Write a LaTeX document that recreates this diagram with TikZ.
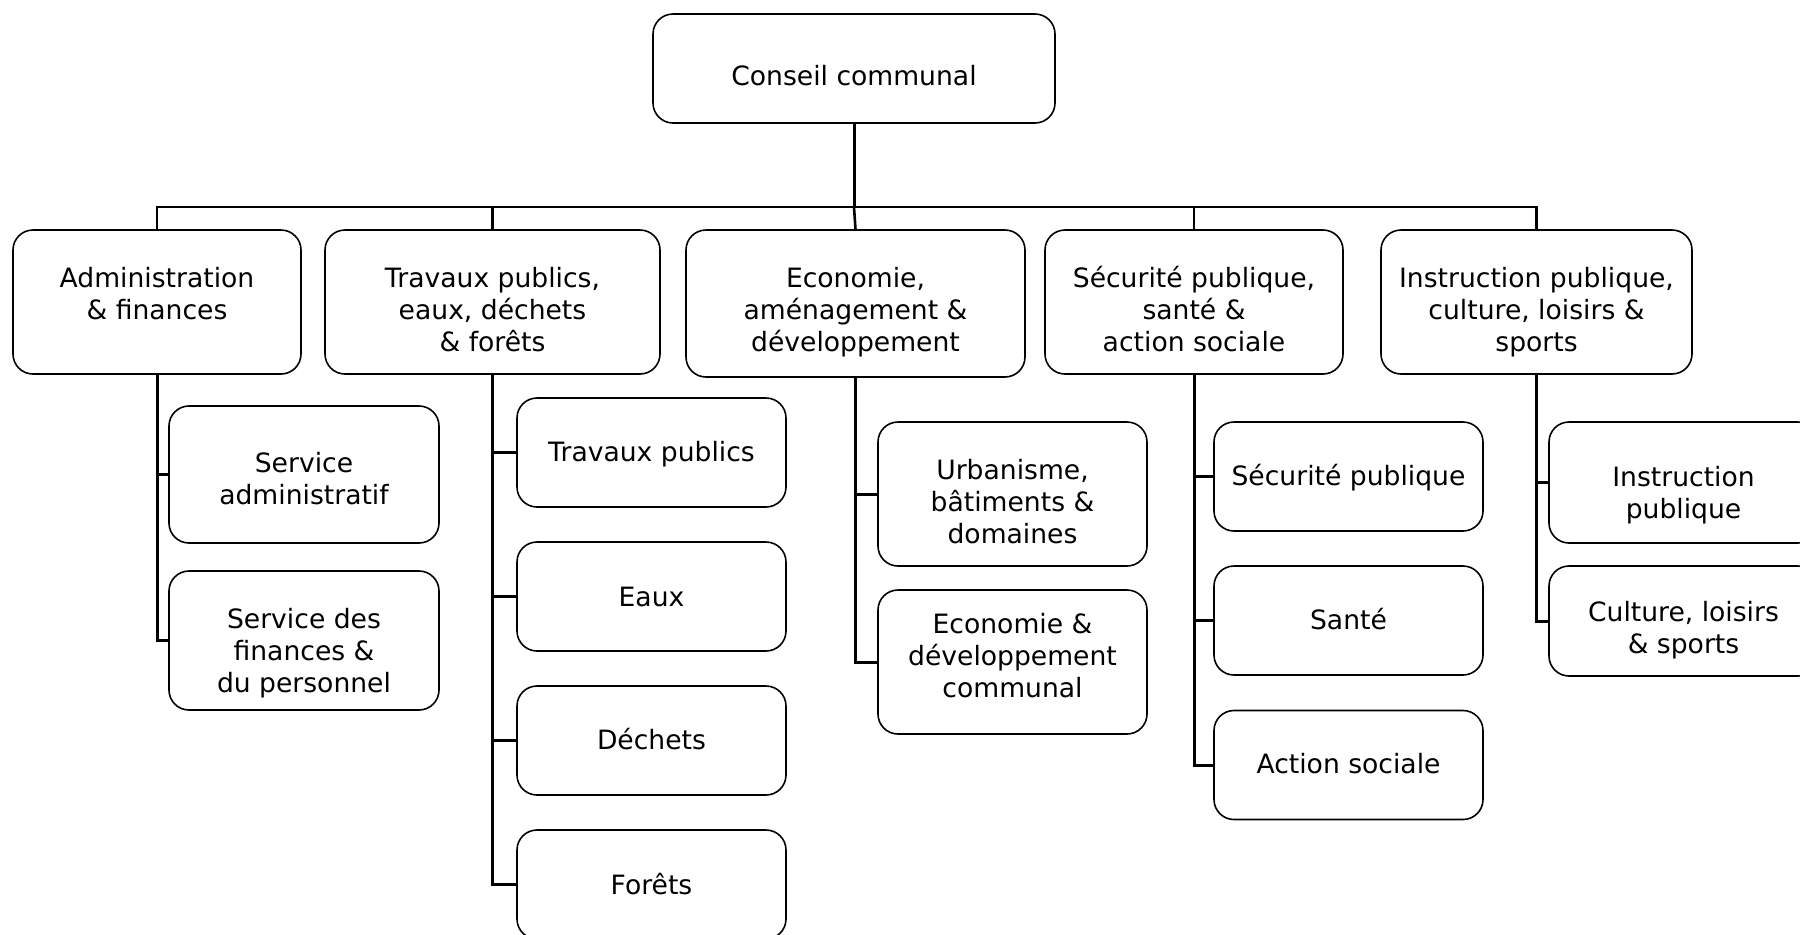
\documentclass[tikz,border=0pt]{standalone}
\usepackage{fontspec}
\setmainfont{DejaVu Sans}
% box caption: centred lines, lowered by #1 pt from the box middle
\newcommand\lbl[2]{\raisebox{\dimexpr-5.3pt-(#1pt)\relax}[0pt][0pt]{\begin{tabular}{@{}c@{}}#2\end{tabular}}}
\begin{document}
\begin{tikzpicture}[x=0.5pt,y=-0.5pt,
  unit/.style={draw=black, line width=0.8pt, rounded corners=10pt, fill=white,
    inner sep=0pt, font=\fontsize{13.3}{16}\selectfont},
  trunk/.style={line width=1.5pt},
  bus/.style={line width=1.3pt}]
\useasboundingbox (0,0) rectangle (1800,934);
\clip (0,0) rectangle (1800,934);
\fill[white] (0,0) rectangle (1800,934);

% council
\node[unit, minimum width=201pt, minimum height=54.5pt] (cc) at (854,68.5) {\lbl{3.6}{Conseil communal}};

% departments
\node[unit, minimum width=144pt, minimum height=72pt] (adm) at (157,302) {\lbl{-4}{Administration\\\& finances}};
\node[unit, minimum width=167.5pt, minimum height=72pt] (tp) at (492.5,302) {\lbl{4}{Travaux publics,\\eaux, déchets\\\& forêts}};
\node[unit, minimum width=169.5pt, minimum height=73.5pt] (eco) at (855.5,303.5) {\lbl{3.2}{Economie,\\aménagement \&\\développement}};
\node[unit, minimum width=149pt, minimum height=72pt] (sec) at (1194,302) {\lbl{4}{Sécurité publique,\\santé \&\\action sociale}};
\node[unit, minimum width=155.5pt, minimum height=72pt] (ins) at (1536.5,302) {\lbl{4}{Instruction publique,\\culture, loisirs \&\\sports}};

% services
\node[unit, minimum width=135pt, minimum height=68.5pt] (sa) at (304,474.5) {\lbl{2}{Service\\administratif}};
\node[unit, minimum width=135pt, minimum height=69.5pt] (sf) at (304,640.5) {\lbl{4.9}{Service des\\finances \&\\du personnel}};

\node[unit, minimum width=134.5pt, minimum height=54.5pt] (tp1) at (651.5,452.5) {\lbl{-0.3}{Travaux publics}};
\node[unit, minimum width=134.5pt, minimum height=54.5pt] (tp2) at (651.5,596.5) {\lbl{0}{Eaux}};
\node[unit, minimum width=134.5pt, minimum height=54.5pt] (tp3) at (651.5,740.5) {\lbl{-0.3}{Déchets}};
\node[unit, minimum width=134.5pt, minimum height=54.5pt] (tp4) at (651.5,884.5) {\lbl{0}{Forêts}};

\node[unit, minimum width=134.5pt, minimum height=72pt] (eco1) at (1012.5,494) {\lbl{4}{Urbanisme,\\bâtiments \&\\domaines}};
\node[unit, minimum width=134.5pt, minimum height=72pt] (eco2) at (1012.5,662) {\lbl{-3}{Economie \&\\développement\\communal}};

\node[unit, minimum width=134.5pt, minimum height=54.5pt] (sec1) at (1348.5,476.5) {\lbl{-0.3}{Sécurité publique}};
\node[unit, minimum width=134.5pt, minimum height=54.5pt] (sec2) at (1348.5,620.5) {\lbl{-0.5}{Santé}};
\node[unit, minimum width=134.5pt, minimum height=54.5pt] (sec3) at (1348.5,765) {\lbl{-0.5}{Action sociale}};

\node[unit, minimum width=134.5pt, minimum height=60.5pt] (ins1) at (1683.5,482.5) {\lbl{5}{Instruction\\publique}};
\node[unit, minimum width=134.5pt, minimum height=55pt] (ins2) at (1683.5,621) {\lbl{3.5}{Culture, loisirs\\\& sports}};

% council to the bus
\coordinate (hub) at (854,207);
\draw[trunk] (cc.south) -- (hub);
\draw[bus] (hub) -| (adm.north);
\draw[bus] (hub) -| (tp.north);
\draw[bus] (hub) -- (eco.north);
\draw[bus] (hub) -| (sec.north);
\draw[bus] (hub) -| (ins.north);

% department trunks to services
\draw[trunk] (adm.south) |- (sa.west);
\draw[trunk] (adm.south) |- (sf.west);
\draw[trunk] (tp.south) |- (tp1.west);
\draw[trunk] (tp.south) |- (tp2.west);
\draw[trunk] (tp.south) |- (tp3.west);
\draw[trunk] (tp.south) |- (tp4.west);
\draw[trunk] (eco.south) |- (eco1.west);
\draw[trunk] (eco.south) |- (eco2.west);
\draw[trunk] (sec.south) |- (sec1.west);
\draw[trunk] (sec.south) |- (sec2.west);
\draw[trunk] (sec.south) |- (sec3.west);
\draw[trunk] (ins.south) |- (ins1.west);
\draw[trunk] (ins.south) |- (ins2.west);
\end{tikzpicture}
\end{document}
